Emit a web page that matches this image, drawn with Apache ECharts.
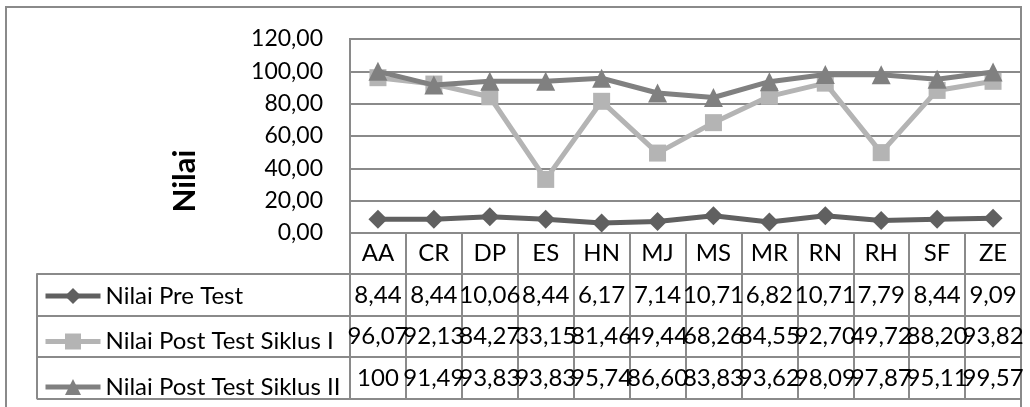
<!DOCTYPE html>
<html>
<head>
<meta charset="utf-8">
<script src="https://cdn.jsdelivr.net/npm/echarts@6/dist/echarts.min.js"></script>
<style>
  html, body { margin: 0; padding: 0; background: #fff; }
  #frame { position: absolute; left: 5px; top: 6px; width: 1017px; height: 420px; border: 2px solid #8a8a8a; box-sizing: border-box; }
  #chart { position: absolute; left: 0; top: 0; width: 1030px; height: 407px; }
</style>
</head>
<body>
<div id="frame"></div>
<div id="chart"></div>
<script>
const categories = ['AA', 'CR', 'DP', 'ES', 'HN', 'MJ', 'MS', 'MR', 'RN', 'RH', 'SF', 'ZE'];
const seriesNames = ['Nilai Pre Test', 'Nilai Post Test Siklus I', 'Nilai Post Test Siklus II'];
const preTest = [8.44, 8.44, 10.06, 8.44, 6.17, 7.14, 10.71, 6.82, 10.71, 7.79, 8.44, 9.09];
const postTest1 = [96.07, 92.13, 84.27, 33.15, 81.46, 49.44, 68.26, 84.55, 92.70, 49.72, 88.20, 93.82];
const postTest2 = [100, 91.49, 93.83, 93.83, 95.74, 86.60, 83.83, 93.62, 98.09, 97.87, 95.11, 99.57];
const yTicks = { min: 0, max: 120, interval: 20 };
const axisTitle = 'Nilai';

const FONT = 'Lato';
const GRID = '#8a8a8a';
const colors = ['#606060', '#b4b4b4', '#808080'];
const symbols = ['diamond', 'rect', 'triangle'];
const symbolSizes = [19, 17, 19];
const rows = [preTest, postTest1, postTest2];

const fmtCell = v => Number.isInteger(v) ? String(v) : v.toFixed(2).replace('.', ',');
const fmtTick = v => v.toFixed(2).replace('.', ',');

const CAT_ROW = 41;
const ROW_H = 41.5;
const FS = 24;

function tableAxis(values, offset) {
  return {
    type: 'category',
    gridIndex: 0,
    position: 'bottom',
    offset: offset,
    data: values.map(fmtCell),
    boundaryGap: true,
    axisLine: { show: true, lineStyle: { color: GRID, width: 2 } },
    axisTick: { show: true, length: ROW_H, interval: 0, lineStyle: { color: GRID, width: 2 } },
    axisLabel: { interval: 0, margin: 9, fontFamily: FONT, fontSize: FS, color: '#000' },
    splitLine: { show: false }
  };
}

const chart = echarts.init(document.getElementById('chart'), null, { renderer: 'canvas' });
chart.setOption({
  animation: false,
  backgroundColor: 'transparent',
  grid: [
    { left: 350, right: 9, top: 39, height: 194, show: true, borderColor: GRID, borderWidth: 2 },
    { left: 37, top: 274, width: 313, height: 3 * ROW_H, show: false }
  ],
  legend: {
    data: seriesNames,
    orient: 'vertical',
    left: 38,
    top: 279,
    padding: 5,
    itemWidth: 55,
    itemHeight: 20,
    itemGap: ROW_H - 20,
    textStyle: { fontFamily: FONT, fontSize: FS, color: '#000', lineHeight: 20, padding: [0, 0, 0, 0] },
    lineStyle: { width: 5 },
    selectedMode: false
  },
  xAxis: [
    {
      type: 'category',
      gridIndex: 0,
      data: categories,
      boundaryGap: true,
      axisLine: { show: true, lineStyle: { color: GRID, width: 2 } },
      axisTick: { show: true, length: CAT_ROW, interval: 0, lineStyle: { color: GRID, width: 2 } },
      axisLabel: { interval: 0, margin: 8, fontFamily: FONT, fontSize: FS, color: '#000' },
      splitLine: { show: false }
    },
    tableAxis(preTest, CAT_ROW),
    tableAxis(postTest1, CAT_ROW + ROW_H),
    tableAxis(postTest2, CAT_ROW + 2 * ROW_H),
    {
      type: 'category', gridIndex: 0, position: 'bottom', offset: CAT_ROW + 3 * ROW_H,
      data: categories, axisLine: { show: true, lineStyle: { color: GRID, width: 2 } },
      axisTick: { show: false }, axisLabel: { show: false }
    },
    { type: 'value', gridIndex: 1, show: false, min: 0, max: 1 }
  ],
  yAxis: [
    {
      type: 'value',
      gridIndex: 0,
      min: yTicks.min, max: yTicks.max, interval: yTicks.interval,
      name: axisTitle,
      nameLocation: 'middle',
      nameRotate: 90,
      nameGap: 150,
      nameTextStyle: { fontFamily: FONT, fontSize: 31, fontWeight: 'bold', color: '#000', padding: [0, 90, 0, 0] },
      axisLine: { show: true, lineStyle: { color: GRID, width: 2 } },
      axisTick: { show: false },
      axisLabel: { margin: 27, fontFamily: FONT, fontSize: 23, color: '#000', formatter: fmtTick },
      splitLine: { show: true, lineStyle: { color: GRID, width: 2 } }
    },
    {
      type: 'category',
      gridIndex: 1,
      data: seriesNames,
      inverse: true,
      boundaryGap: true,
      axisLine: { show: true, lineStyle: { color: GRID, width: 2 } },
      axisTick: { show: false },
      axisLabel: { show: false },
      splitLine: { show: true, interval: 0, lineStyle: { color: GRID, width: 2 } }
    }
  ],
  series: rows.map((vals, i) => ({
    name: seriesNames[i],
    type: 'line',
    xAxisIndex: 0,
    yAxisIndex: 0,
    data: vals,
    symbol: symbols[i],
    symbolSize: symbolSizes[i],
    showAllSymbol: true,
    lineStyle: { color: colors[i], width: 5 },
    itemStyle: { color: colors[i] },
    emphasis: { disabled: true },
    z: 2 + i
  }))
});
</script>
</body>
</html>
